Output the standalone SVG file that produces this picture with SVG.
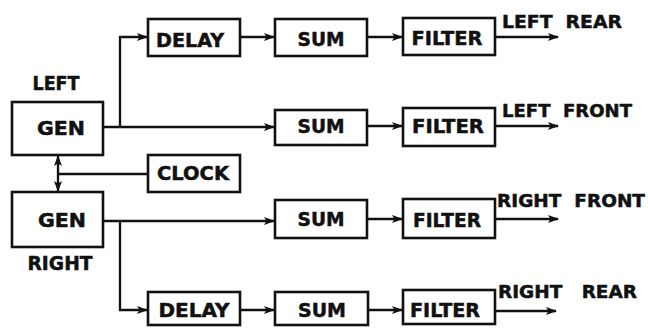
<svg xmlns="http://www.w3.org/2000/svg" width="648" height="329" viewBox="0 0 648 329">
<defs>
<marker id="ah" markerWidth="11" markerHeight="9" refX="10" refY="4.5" orient="auto" markerUnits="userSpaceOnUse">
<path d="M0,0.5 L11,4.5 L0,8.5 L2.5,4.5 Z" fill="#111"/>
</marker>
</defs>
<style>
.box{fill:#fff;stroke:#111;stroke-width:2.6}
.t{font-family:"DejaVu Sans","Liberation Sans",sans-serif;font-weight:bold;font-size:19px;fill:#111;stroke:#111;stroke-width:0.5;text-anchor:middle}
.l{font-family:"DejaVu Sans","Liberation Sans",sans-serif;font-weight:bold;font-size:18px;fill:#111;stroke:#111;stroke-width:0.5}
.c{fill:none;stroke:#111;stroke-width:2.3}
</style>
<rect width="648" height="329" fill="#fff"/>
<g id="connectors">
<path class="c" d="M103,127 H274" marker-end="url(#ah)"/>
<path class="c" d="M120,127 V37 H147" marker-end="url(#ah)"/>
<path class="c" d="M240,37 H274" marker-end="url(#ah)"/>
<path class="c" d="M367,37 H402" marker-end="url(#ah)"/>
<path class="c" d="M367,126 H402" marker-end="url(#ah)"/>
<path class="c" d="M495,37 H558" marker-end="url(#ah)"/>
<path class="c" d="M495,126 H558" marker-end="url(#ah)"/>
<path class="c" d="M148,174 H58"/>
<path class="c" d="M58,174 V156" marker-end="url(#ah)"/>
<path class="c" d="M58,174 V191" marker-end="url(#ah)"/>
<path class="c" d="M103,221 H274" marker-end="url(#ah)"/>
<path class="c" d="M120,221 V310 H147" marker-end="url(#ah)"/>
<path class="c" d="M240,310 H274" marker-end="url(#ah)"/>
<path class="c" d="M367,219 H402" marker-end="url(#ah)"/>
<path class="c" d="M367,310 H402" marker-end="url(#ah)"/>
<path class="c" d="M495,219 H558" marker-end="url(#ah)"/>
<path class="c" d="M495,311 H556" marker-end="url(#ah)"/>
</g>
<g id="gen-left">
<rect class="box" x="12" y="102" width="91" height="53"/>
<text class="t" x="61" y="135" textLength="48" lengthAdjust="spacingAndGlyphs">GEN</text>
<text class="t" x="56" y="90" textLength="47" lengthAdjust="spacingAndGlyphs">LEFT</text>
</g>
<g id="gen-right">
<rect class="box" x="12" y="192" width="91" height="55"/>
<text class="t" x="62" y="227" textLength="48" lengthAdjust="spacingAndGlyphs">GEN</text>
<text class="t" x="60" y="270" textLength="65" lengthAdjust="spacingAndGlyphs">RIGHT</text>
</g>
<g id="clock">
<rect class="box" x="148" y="155" width="92" height="37"/>
<text class="t" x="193" y="180" textLength="72" lengthAdjust="spacingAndGlyphs">CLOCK</text>
</g>
<g id="delay-1">
<rect class="box" x="148" y="19" width="92" height="37"/>
<text class="t" x="190" y="47" textLength="68" lengthAdjust="spacingAndGlyphs">DELAY</text>
</g>
<g id="sum-1">
<rect class="box" x="275" y="19" width="92" height="37"/>
<text class="t" x="321" y="46" textLength="47" lengthAdjust="spacingAndGlyphs">SUM</text>
</g>
<g id="filter-1">
<rect class="box" x="403" y="18" width="92" height="37"/>
<text class="t" x="447" y="45" textLength="71" lengthAdjust="spacingAndGlyphs">FILTER</text>
</g>
<g id="sum-2">
<rect class="box" x="275" y="110" width="92" height="35"/>
<text class="t" x="321" y="133" textLength="47" lengthAdjust="spacingAndGlyphs">SUM</text>
</g>
<g id="filter-2">
<rect class="box" x="403" y="108" width="92" height="38"/>
<text class="t" x="448" y="133" textLength="72" lengthAdjust="spacingAndGlyphs">FILTER</text>
</g>
<g id="sum-3">
<rect class="box" x="275" y="200" width="92" height="38"/>
<text class="t" x="321" y="226" textLength="47" lengthAdjust="spacingAndGlyphs">SUM</text>
</g>
<g id="filter-3">
<rect class="box" x="403" y="199" width="92" height="39"/>
<text class="t" x="447" y="227" textLength="68" lengthAdjust="spacingAndGlyphs">FILTER</text>
</g>
<g id="delay-2">
<rect class="box" x="148" y="292" width="92" height="33"/>
<text class="t" x="194" y="317" textLength="71" lengthAdjust="spacingAndGlyphs">DELAY</text>
</g>
<g id="sum-4">
<rect class="box" x="275" y="292" width="93" height="33"/>
<text class="t" x="322" y="317" textLength="48" lengthAdjust="spacingAndGlyphs">SUM</text>
</g>
<g id="filter-4">
<rect class="box" x="403" y="290" width="92" height="34"/>
<text class="t" x="445" y="317" textLength="70" lengthAdjust="spacingAndGlyphs">FILTER</text>
</g>
<g id="outputs">
<text class="l" x="502" y="28" textLength="120" lengthAdjust="spacingAndGlyphs" xml:space="preserve">LEFT  REAR</text>
<text class="l" x="502" y="117" textLength="130" lengthAdjust="spacingAndGlyphs" xml:space="preserve">LEFT  FRONT</text>
<text class="l" x="497" y="207" textLength="148" lengthAdjust="spacingAndGlyphs" xml:space="preserve">RIGHT  FRONT</text>
<text class="l" x="498" y="298" textLength="139" lengthAdjust="spacingAndGlyphs" xml:space="preserve">RIGHT   REAR</text>
</g>
</svg>
